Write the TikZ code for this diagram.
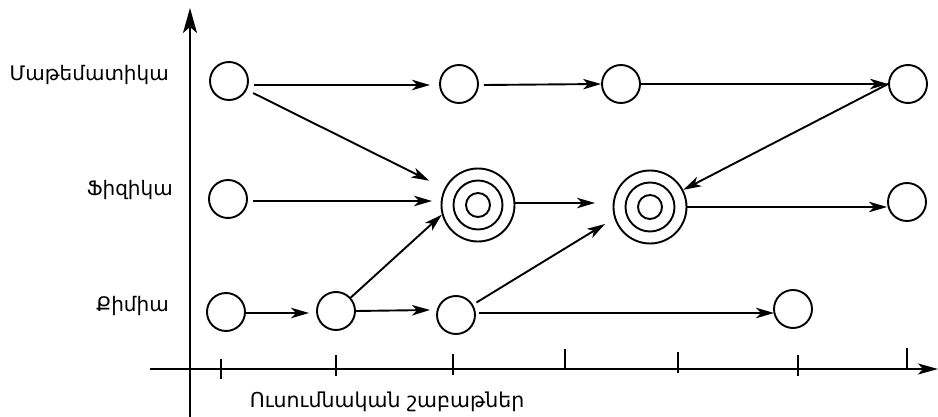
\documentclass[tikz,border=0pt]{standalone}
\usepackage{fontspec}
\setmainfont{DejaVu Sans}
\usetikzlibrary{arrows.meta}
\begin{document}
\begin{tikzpicture}[x=1pt,y=-1pt,
  circ/.style={circle,draw,line width=1.9pt,minimum size=38pt,inner sep=0pt},
  big/.style={circle,draw,line width=1.9pt,minimum size=73pt,inner sep=0pt},
  ring/.style={circle,draw,line width=1.9pt,inner sep=0pt},
  arr/.style={line width=1.9pt,-{Stealth[length=18pt,width=10.5pt,inset=5pt]}},
  axisx/.style={line width=2pt,-{Stealth[length=20pt,width=11pt,inset=5pt]}},
  axisy/.style={line width=2pt,-{Stealth[length=25pt,width=14pt,inset=6pt]}},
  tickline/.style={line width=2pt},
  lbl/.style={font=\fontsize{20}{24}\selectfont, anchor=east, inner sep=0pt}]
\useasboundingbox (0,0) rectangle (938,417);

% axes
\coordinate (xs) at (150,369);
\coordinate (xe) at (938,369);
\coordinate (ys) at (190,417);
\coordinate (ye) at (190,8);
\draw[axisx] (xs) -- (xe);
\draw[axisy] (ys) -- (ye);
\foreach \x/\a/\b in {221/359/379, 336/355/376, 453/354/375, 565/349/370, 678/352/373, 798/355/376, 907/348/369}
  \draw[tickline] (\x,\a) -- (\x,\b);

% labels
\node[lbl] (lm) at (169,75) {Մաթեմատիկա};
\node[lbl] (lf) at (173,190) {Ֆիզիկա};
\node[lbl] (lk) at (169,306) {Քիմիա};
\node[font=\fontsize{20.5}{24}\selectfont, inner sep=0pt] (lx) at (387,402) {Ուսումնական շաբաթներ};

% row 1
\node[circ] (m1) at (229,81) {};
\node[circ] (m2) at (459,84) {};
\node[circ] (m3) at (621,84) {};
\node[circ] (m4) at (908,84) {};
% row 2
\node[circ] (f1) at (228,199) {};
\node[big] (f2) at (478,205) {};
\node[ring,minimum size=49pt] (f2m) at (f2) {};
\node[ring,minimum size=24pt] (f2i) at (f2) {};
\node[big] (f3) at (650,207) {};
\node[ring,minimum size=49pt] (f3m) at (f3) {};
\node[ring,minimum size=24pt] (f3i) at (f3) {};
\node[circ] (f4) at (907,202) {};
% row 3
\node[circ] (k1) at (226,312) {};
\node[circ] (k2) at (336,311) {};
\node[circ] (k3) at (456,315) {};
\node[circ] (k4) at (793,309) {};

% free ends
\coordinate (a1s) at (254,85);
\coordinate (a1e) at (430,85);
\coordinate (b1s) at (253,201);
\coordinate (b1e) at (432,201);
\coordinate (p1) at (595,203);
\coordinate (p2) at (309,313);
\coordinate (p3) at (430,310);
\coordinate (p4) at (605,224);
\coordinate (c3s) at (479,313);
\coordinate (c3e) at (774,313);

% arrows row 1
\draw[arr] (a1s) -- (a1e);
\draw[arr] (m2.east) ++(5,1) -- (m3.west);
\draw[arr] (m3.east) -- (m3.east -| m4.west);
\draw[arr] (m4.west) -- (f3);
\draw[arr,shorten <=7pt,shorten >=17pt] (m1) -- (f2);
% row 2
\draw[arr] (b1s) -- (b1e);
\draw[arr] (f2.east |- p1) -- (p1);
\draw[arr] (f3.east) -- (f3.east -| f4.west);
% row 3
\draw[arr] (k1.east |- p2) -- (p2);
\draw[arr] (k2.east) -- (p3);
\draw[arr] (c3s) -- (c3e);
\draw[arr] (k2) -- (f2.195);
\draw[arr,shorten <=4pt] (k3) -- (p4);
\end{tikzpicture}
\end{document}
